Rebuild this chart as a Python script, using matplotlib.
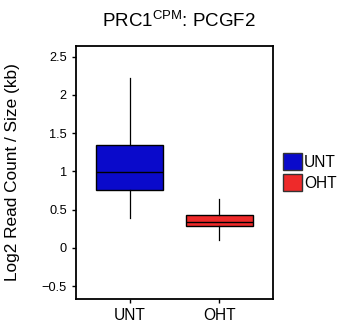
import matplotlib
matplotlib.use('Agg')
import matplotlib.pyplot as plt
from matplotlib.patches import Patch

plt.rcParams['font.family'] = 'Liberation Sans'
plt.rcParams['mathtext.fontset'] = 'custom'
plt.rcParams['mathtext.rm'] = 'Liberation Sans'

groups = ['UNT', 'OHT']
colors = ['#0A0ACB', '#EE2A2A']
whislo = [0.39, 0.10]
q1 = [0.755, 0.29]
med = [0.99, 0.34]
q3 = [1.345, 0.426]
whishi = [2.22, 0.635]

stats = []
for i, g in enumerate(groups):
    stats.append(dict(label=g, whislo=whislo[i], q1=q1[i], med=med[i],
                      q3=q3[i], whishi=whishi[i], fliers=[]))

fig = plt.figure(figsize=(3.39, 3.29), dpi=100)
ax = fig.add_axes([76/339, 1 - 299/329, 197/339, 253/329])

bp = ax.bxp(stats, positions=[1, 2], widths=0.75, patch_artist=True,
            showcaps=False,
            boxprops=dict(linewidth=1.0, edgecolor='black'),
            medianprops=dict(color='black', linewidth=1.0),
            whiskerprops=dict(color='black', linewidth=0.9))
for box, c in zip(bp['boxes'], colors):
    box.set_facecolor(c)

ax.set_xlim(0.40, 2.6)
ax.set_ylim(-0.67, 2.64)
ax.set_yticks([-0.5, 0, 0.5, 1, 1.5, 2, 2.5])
ax.set_yticklabels(['\u22120.5', '0', '0.5', '1', '1.5', '2', '2.5'])
ax.tick_params(axis='both', direction='out', length=3, width=1, colors='black', labelsize=9.2)
ax.tick_params(axis='x', labelsize=11.2)
for s in ax.spines.values():
    s.set_linewidth(1.3)

ax.set_ylabel('Log2 Read Count / Size (kb)', fontsize=12.4)
ax.yaxis.set_label_coords((20 - 76) / 197, 0.5)
fig.text(179/339, 1 - 21/329, r'PRC1$^{\mathrm{CPM}}$: PCGF2', ha='center', va='center', fontsize=13.5)

handles = [Patch(facecolor=c, edgecolor='#333333', label=g) for g, c in zip(groups, colors)]
fig.legend(handles=handles, loc='center left', bbox_to_anchor=(283/339, 1 - 172/329),
           frameon=False, fontsize=11.2, handlelength=1.2, handleheight=1.25,
           handletextpad=0.15, labelspacing=0.3, borderpad=0, borderaxespad=0)

fig.savefig('out.png', dpi=100)
